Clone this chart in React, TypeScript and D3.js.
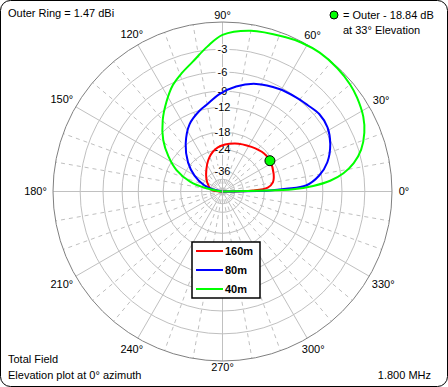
import * as d3 from 'd3';

const width = 448;
const height = 387;
const cx = 222.5;
const cy = 191.5;
const outerR = 169.5;

// elevation angle (deg) / gain relative to outer ring (dB)
const band160: [number, number][] = [
  [0, -100], [2, -29.5], [5, -22.6], [10, -20.6], [19, -19.6], [33, -18.84], [42, -18.9],
  [57, -19.9], [76, -21.1], [96, -23], [111, -26.3], [133, -33.5], [149, -38.6], [172, -47], [180, -100],
];
const band80: [number, number][] = [
  [0, -100], [1.2, -22], [2.4, -16.8], [4.1, -12.1], [9.4, -9.4], [15.6, -7.6], [23.8, -6.25],
  [31.4, -5.5], [38.7, -5.37], [45.5, -5.75], [52, -6.0], [61, -6.34], [72.6, -7.0], [82.6, -8.07],
  [91.8, -9.5], [100.6, -11.26], [105.9, -12.06], [116, -14], [127.8, -17.8], [139.8, -22.7],
  [150.3, -28.5], [161.6, -37.6], [168, -52], [180, -100],
];
const band40: [number, number][] = [
  [0, -100], [1.8, -15], [3.5, -10.7], [5.7, -7.7], [8.6, -5.6], [12.2, -4.0], [16.8, -2.7],
  [22.5, -1.7], [28, -1.05], [35, -0.55], [40, -0.3], [47, -0.1], [55, 0], [62, -0.1], [68, -0.3],
  [80, -0.64], [90, -1.35], [96, -2.6], [103, -4.16], [109, -5.2], [115, -6.3], [122, -8.1],
  [130, -10.3], [139, -13.2], [147, -16.6], [155, -20.7], [163, -27.6], [168.5, -40], [180, -100],
];

const seriesNames = ['160m', '80m', '40m'];
const seriesColors = ['#ff0000', '#0000ff', '#00ff00'];
const seriesData = [band160, band80, band40];

const ringLevels = [-3, -6, -9, -12, -18, -24, -36];
const innerRing = -45;
const angleTicks = d3.range(0, 360, 30);
const minorAngles = d3.range(0, 360, 10).filter((a) => a % 30 !== 0);

const cursor = { angle: 33, db: -18.84 };

const font = 'Arial, "Liberation Sans", sans-serif';

// ARRL log scale: radius = R * 0.89^(-dB/2)
const radiusScale = d3
  .scaleLog()
  .domain([outerR * Math.pow(0.89, 50), outerR])
  .range([-100, 0]);
const r = (db: number) => radiusScale.invert(db);
const rad = (deg: number) => (deg * Math.PI) / 180;

const line = d3
  .lineRadial<[number, number]>()
  .angle((d) => rad(90 - d[0]))
  .radius((d) => r(d[1]))
  .curve(d3.curveCatmullRom);

export default function App() {
  const cursorR = r(cursor.db);
  return (
    <svg
      width={width}
      height={height}
      style={{ position: 'absolute', left: 0, top: 0, fontFamily: font }}
    >
      <rect x={0.5} y={0.5} width={width - 1} height={height - 1} rx={10} fill="#fff" stroke="#000" />

      <g transform={`translate(${cx},${cy})`}>
        {/* dashed spokes */}
        {minorAngles.map((a) => (
          <line
            key={'m' + a}
            x1={0}
            y1={0}
            x2={outerR * Math.cos(rad(a))}
            y2={-outerR * Math.sin(rad(a))}
            stroke="#c0c0c0"
            strokeDasharray="4 4"
          />
        ))}
        {/* solid spokes */}
        {angleTicks.map((a) => (
          <line
            key={'s' + a}
            x1={0}
            y1={0}
            x2={outerR * Math.cos(rad(a))}
            y2={-outerR * Math.sin(rad(a))}
            stroke="#c0c0c0"
          />
        ))}
        {[...ringLevels, innerRing].map((db) => (
          <circle key={'r' + db} r={r(db)} fill="none" stroke="#c0c0c0" />
        ))}
        <circle r={outerR} fill="none" stroke="#808080" />

        {/* ring labels */}
        {ringLevels.map((db) => (
          <g key={'l' + db} transform={`translate(0,${-r(db)})`}>
            <rect x={-7} y={-5} width={14} height={10} fill="#fff" />
            <text textAnchor="middle" dy="0.35em" fontSize={11}>
              {db}
            </text>
          </g>
        ))}

        {/* angle labels */}
        {angleTicks.map((a) => {
          const label = `${a}°`;
          const lr = 176 + Math.abs(Math.cos(rad(a))) * label.length * 2.75;
          return (
            <text
              key={'a' + a}
              x={lr * Math.cos(rad(a))}
              y={-lr * Math.sin(rad(a))}
              textAnchor="middle"
              dy="0.35em"
              fontSize={11}
            >
              {label}
            </text>
          );
        })}

        {seriesData.map((d, i) => (
          <path key={seriesNames[i]} d={line(d) ?? ''} fill="none" stroke={seriesColors[i]} strokeWidth={2} />
        ))}

        <circle
          cx={cursorR * Math.cos(rad(cursor.angle))}
          cy={-cursorR * Math.sin(rad(cursor.angle))}
          r={5}
          fill="#00ff00"
          stroke="#000"
        />
      </g>

      {/* legend */}
      <rect x={192} y={242} width={68} height={56} fill="#fff" stroke="#000" strokeWidth={1.5} />
      {seriesNames.map((name, i) => (
        <g key={'lg' + name} transform={`translate(196,${251 + i * 19})`}>
          <line x1={0} x2={27} y1={0} y2={0} stroke={seriesColors[i]} strokeWidth={2} />
          <text x={29} dy="0.35em" fontSize={11} fontWeight="bold">
            {name}
          </text>
        </g>
      ))}

      <text x={8} y={17} fontSize={11}>
        Outer Ring = 1.47 dBi
      </text>
      <circle cx={334} cy={15} r={4} fill="#00ff00" stroke="#000" />
      <text x={343} y={19} fontSize={11}>
        = Outer - {Math.abs(cursor.db).toFixed(2)} dB
      </text>
      <text x={343} y={34} fontSize={11}>
        at {cursor.angle}° Elevation
      </text>
      <text x={8} y={363} fontSize={11}>
        Total Field
      </text>
      <text x={8} y={379} fontSize={11}>
        Elevation plot at 0° azimuth
      </text>
      <text x={431} y={379} fontSize={11} textAnchor="end">
        1.800 MHz
      </text>
    </svg>
  );
}
